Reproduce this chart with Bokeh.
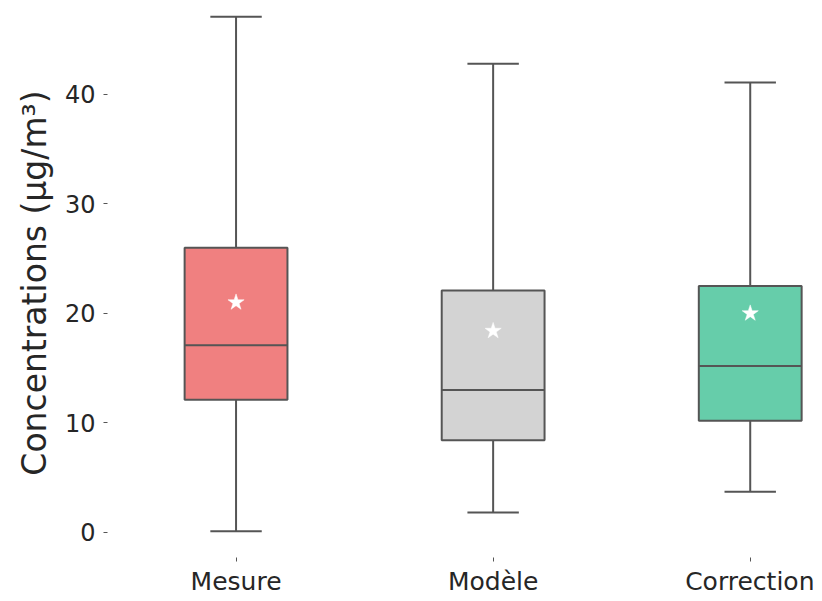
from bokeh.plotting import figure
from bokeh.models import FixedTicker, Range1d
from bokeh.embed import file_html
from bokeh.resources import INLINE
import numpy as np

categories = ["Mesure", "Modèle", "Correction"]
whisker_low = [0.1, 1.8, 3.7]
q1 = [12.1, 8.4, 10.2]
median = [17.1, 13.0, 15.2]
q3 = [26.0, 22.1, 22.5]
whisker_high = [47.1, 42.8, 41.1]
means = [21.0, 18.4, 20.0]
colors = ["#F08080", "#D3D3D3", "#66CDAA"]
y_ticks = [0, 10, 20, 30, 40]

x = np.arange(len(categories))
box_w = 0.4
cap_w = 0.2
line_col = "#555555"

p = figure(output_backend="svg", toolbar_location=None,
           frame_width=707, frame_height=549,
           min_border_left=107, min_border_right=0, min_border_top=8, min_border_bottom=0,
           x_range=Range1d(-0.5, 2.25), y_range=Range1d(-2.3, 47.85))
p.outline_line_color = None
p.xgrid.visible = False
p.ygrid.visible = False
p.background_fill_color = "white"

# whiskers
p.segment(x0=x, x1=x, y0=np.array(q3), y1=np.array(whisker_high), line_color=line_col, line_width=2)
p.segment(x0=x, x1=x, y0=np.array(whisker_low), y1=np.array(q1), line_color=line_col, line_width=2)
# caps
p.segment(x0=x - cap_w / 2, x1=x + cap_w / 2, y0=whisker_high, y1=whisker_high, line_color=line_col, line_width=2)
p.segment(x0=x - cap_w / 2, x1=x + cap_w / 2, y0=whisker_low, y1=whisker_low, line_color=line_col, line_width=2)
# boxes
p.vbar(x=x, width=box_w, bottom=q1, top=q3, fill_color=colors, line_color=line_col, line_width=2)
# medians
p.segment(x0=x - box_w / 2, x1=x + box_w / 2, y0=median, y1=median, line_color=line_col, line_width=2)
# means
p.scatter(x=x, y=means, marker="star", size=17, fill_color="white", line_color="white", line_width=0.5)

font = "DejaVu Sans"
p.xaxis.ticker = FixedTicker(ticks=list(x))
p.xaxis.major_label_overrides = {int(i): c for i, c in zip(x, categories)}
p.yaxis.ticker = FixedTicker(ticks=y_ticks)
for ax in (p.xaxis, p.yaxis):
    ax.axis_line_color = None
    ax.minor_tick_line_color = None
    ax.major_tick_in = 0
    ax.major_tick_out = 4
    ax.major_tick_line_color = "#555555"
    ax.major_label_text_font = font
    ax.major_label_text_color = "#262626"
p.xaxis.major_label_text_font_size = "25px"
p.yaxis.major_label_text_font_size = "24px"
p.xaxis.major_label_standoff = 5
p.yaxis.major_label_standoff = 8
p.yaxis.axis_label = "Concentrations (µg/m³)"
p.yaxis.axis_label_text_font = font
p.yaxis.axis_label_text_font_size = "33px"
p.yaxis.axis_label_text_font_style = "normal"
p.yaxis.axis_label_text_color = "#262626"
p.yaxis.axis_label_standoff = 8

open("out.html", "w").write(file_html(p, INLINE))
